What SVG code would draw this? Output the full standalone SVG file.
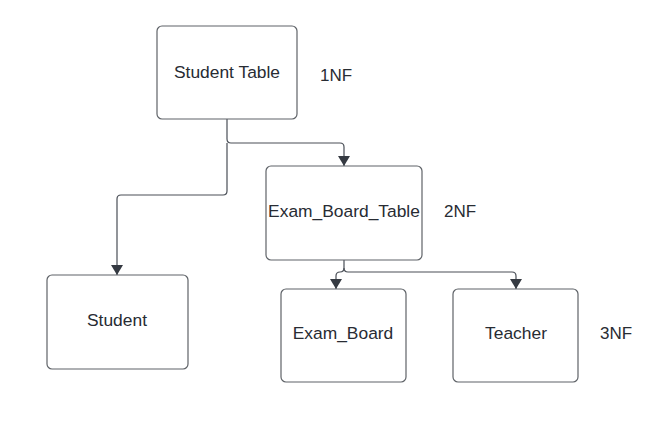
<svg xmlns="http://www.w3.org/2000/svg" width="666" height="424" viewBox="0 0 666 424">
<style>
.box{fill:#fff;stroke:#5f6368;stroke-width:1.2}
.t{font-family:"Liberation Sans",Arial,sans-serif;font-size:17.4px;fill:#282c33;text-anchor:middle}
.l{font-family:"Liberation Sans",Arial,sans-serif;font-size:17px;fill:#282c33}
.c{fill:none;stroke:#4a4f57;stroke-width:1.2}
</style>
<defs>
<marker id="ah" viewBox="0 0 10 12" refX="10" refY="6" markerWidth="10" markerHeight="12" markerUnits="userSpaceOnUse" orient="auto">
<path d="M0,0 L10,6 L0,12 Z" fill="#353a42"/>
</marker>
</defs>
<rect width="666" height="424" fill="#fff"/>
<g id="connectors">
<path class="c" d="M227,119 V139 Q227,143 231,143 H340 Q344,143 344,147 V166" marker-end="url(#ah)"/>
<path class="c" d="M227,143 V191 Q227,195 223,195 H121 Q117,195 117,199 V275" marker-end="url(#ah)"/>
<path class="c" d="M344,260 V268 Q344,272 340,272 Q336,272 336,276 V289" marker-end="url(#ah)"/>
<path class="c" d="M344,268 Q344,272 348,272 H512 Q516,272 516,276 V289" marker-end="url(#ah)"/>
</g>
<g id="student_table">
<rect class="box" x="157" y="26" width="140" height="93" rx="5"/>
<text class="t" x="227" y="78">Student Table</text>
</g>
<text class="l" x="320" y="81">1NF</text>
<g id="exam_board_table">
<rect class="box" x="266" y="166" width="156" height="94" rx="5"/>
<text class="t" x="344" y="217">Exam_Board_Table</text>
</g>
<text class="l" x="444" y="217">2NF</text>
<g id="student">
<rect class="box" x="47" y="275" width="141" height="94" rx="5"/>
<text class="t" x="117" y="326">Student</text>
</g>
<g id="exam_board">
<rect class="box" x="281" y="289" width="125" height="93" rx="5"/>
<text class="t" x="343" y="339">Exam_Board</text>
</g>
<g id="teacher">
<rect class="box" x="453" y="289" width="125" height="93" rx="5"/>
<text class="t" x="516" y="339">Teacher</text>
</g>
<text class="l" x="600" y="339">3NF</text>
</svg>
